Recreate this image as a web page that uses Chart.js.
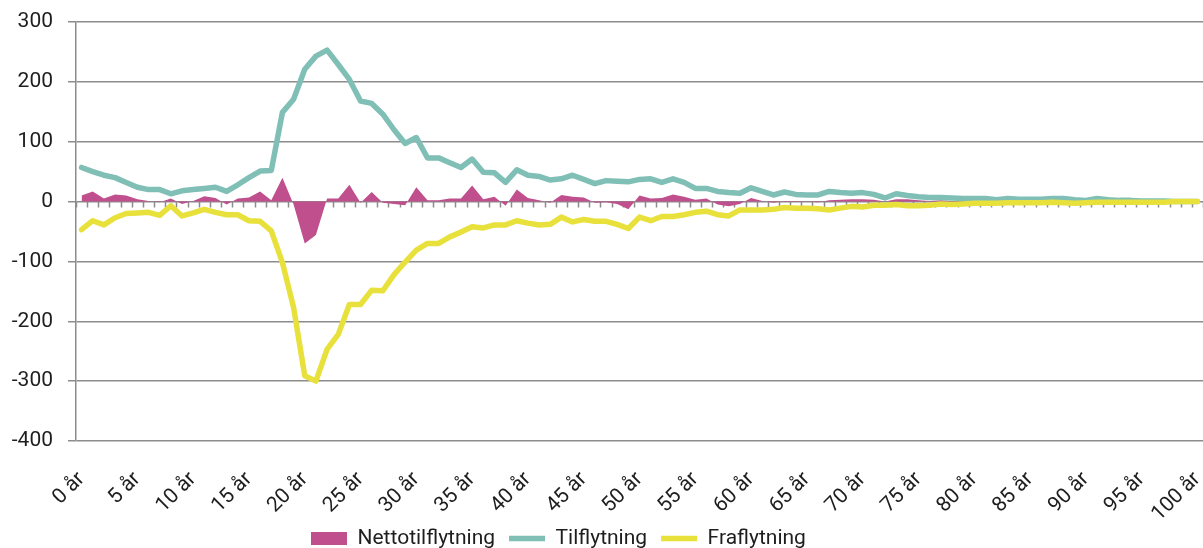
<!DOCTYPE html>
<html>
<head>
<meta charset="utf-8">
<script src="https://cdn.jsdelivr.net/npm/chart.js@4/dist/chart.umd.min.js"></script>
<style>
  html, body { margin: 0; padding: 0; background: #ffffff; overflow: hidden; }
  #wrap { width: 1203px; height: 548px; overflow: hidden; }
  canvas { display: block; }
</style>
</head>
<body>
<div id="wrap"><canvas id="c" width="1203" height="559"></canvas></div>
<script>
const ages = ["0 år","1 år","2 år","3 år","4 år","5 år","6 år","7 år","8 år","9 år",
  "10 år","11 år","12 år","13 år","14 år","15 år","16 år","17 år","18 år","19 år",
  "20 år","21 år","22 år","23 år","24 år","25 år","26 år","27 år","28 år","29 år",
  "30 år","31 år","32 år","33 år","34 år","35 år","36 år","37 år","38 år","39 år",
  "40 år","41 år","42 år","43 år","44 år","45 år","46 år","47 år","48 år","49 år",
  "50 år","51 år","52 år","53 år","54 år","55 år","56 år","57 år","58 år","59 år",
  "60 år","61 år","62 år","63 år","64 år","65 år","66 år","67 år","68 år","69 år",
  "70 år","71 år","72 år","73 år","74 år","75 år","76 år","77 år","78 år","79 år",
  "80 år","81 år","82 år","83 år","84 år","85 år","86 år","87 år","88 år","89 år",
  "90 år","91 år","92 år","93 år","94 år","95 år","96 år","97 år","98 år","99 år",
  "100 år"];

const nettotilflytning = [10,17,5,12,10,4,1,-1,5,-4,
  1,9,6,-5,5,7,17,2,40,-5,
  -70,-56,5,5,28,-2,16,-2,-4,-6,
  24,2,2,5,5,27,4,8,-7,20,
  6,2,-2,11,8,7,-2,-1,-4,-13,
  10,5,6,12,8,3,5,-5,-8,-4,
  6,1,-2,1,1,0,-1,2,3,4,
  4,3,0,4,4,2,1,2,1,1,
  1,1,0,2,1,1,1,2,2,0,
  0,2,1,1,1,0,0,0,0,0,
  0];

const tilflytning = [57,50,44,40,32,24,20,20,13,18,
  20,22,24,17,28,40,51,52,149,171,
  221,243,253,229,204,168,164,146,120,97,
  107,73,73,65,57,71,49,48,32,53,
  44,42,36,38,44,37,30,35,34,33,
  37,38,32,38,32,22,22,17,15,14,
  23,17,11,16,12,11,11,17,15,14,
  15,12,6,13,10,8,7,7,6,5,
  5,5,3,5,4,4,4,5,5,3,
  2,5,3,2,2,1,1,1,0,0,
  0];

const fraflytning = [-47,-32,-39,-27,-20,-19,-18,-23,-7,-24,
  -19,-13,-18,-22,-22,-32,-33,-49,-102,-177,
  -291,-300,-247,-222,-172,-172,-148,-149,-122,-101,
  -81,-70,-70,-59,-51,-42,-44,-39,-39,-32,
  -36,-39,-38,-26,-34,-30,-33,-33,-38,-45,
  -26,-32,-25,-25,-22,-18,-16,-22,-24,-14,
  -14,-14,-13,-10,-11,-11,-12,-14,-11,-8,
  -9,-6,-6,-5,-7,-7,-6,-4,-5,-4,
  -3,-3,-3,-2,-2,-2,-2,-1,-2,-3,
  -2,-1,-1,-1,-1,-1,-1,-1,0,0,
  0];

const seriesNames = ["Nettotilflytning", "Tilflytning", "Fraflytning"];
const yMin = -400, yMax = 300, yStep = 100;
const labelEvery = 5;

const FONT = "Roboto, 'Liberation Sans', sans-serif";
const GRID = "#8c8c8c";
const TEXT = "#1e1e1e";
const LEGEND_START_X = 311;

const zeroTicks = {
  id: 'zeroTicks',
  beforeDatasetsDraw(chart) {
    const xs = chart.scales.x, ys = chart.scales.y;
    const y0 = ys.getPixelForValue(0);
    const ctx = chart.ctx;
    ctx.save();
    ctx.strokeStyle = GRID;
    ctx.lineWidth = 1.5;
    ctx.beginPath();
    for (let k = 0; k <= ages.length; k++) {
      const x = Math.round(xs.getPixelForValue(k - 0.5)) + 0.5;
      ctx.moveTo(x, y0);
      ctx.lineTo(x, y0 + 6);
    }
    ctx.stroke();
    ctx.restore();
  }
};

const legendShift = {
  id: 'legendShift',
  afterLayout(chart) {
    const lg = chart.legend;
    if (!lg) return;
    const pad = lg.options.labels.padding;
    const w = lg.right - lg.left;
    lg.left = LEGEND_START_X - pad;
    lg.right = lg.left + w;
  }
};

new Chart(document.getElementById('c'), {
  type: 'line',
  data: {
    labels: ages,
    datasets: [
      { label: seriesNames[0], data: nettotilflytning, backgroundColor: '#c0508d', borderColor: '#c0508d',
        borderWidth: 0, fill: 'origin', pointRadius: 0, pointStyle: 'rect', tension: 0, order: 3 },
      { label: seriesNames[1], data: tilflytning, borderColor: '#80bfb6', backgroundColor: '#80bfb6',
        borderWidth: 5.5, fill: false, pointRadius: 0, pointStyle: 'line', borderJoinStyle: 'round',
        borderCapStyle: 'round', tension: 0, order: 2 },
      { label: seriesNames[2], data: fraflytning, borderColor: '#e8e13b', backgroundColor: '#e8e13b',
        borderWidth: 5.5, fill: false, pointRadius: 0, pointStyle: 'line', borderJoinStyle: 'round',
        borderCapStyle: 'round', tension: 0, order: 1 }
    ]
  },
  options: {
    responsive: false,
    animation: false,
    devicePixelRatio: 1,
    layout: { padding: { top: 22, right: 0, bottom: 0, left: 0 } },
    plugins: {
      tooltip: { enabled: false },
      legend: {
        position: 'bottom',
        align: 'start',
        labels: {
          usePointStyle: true, pointStyleWidth: 36, boxHeight: 13, padding: 14, color: TEXT,
          font: { family: FONT, size: 21 },
          sort: (a, b) => a.datasetIndex - b.datasetIndex
        }
      }
    },
    scales: {
      x: {
        type: 'category',
        offset: true,
        grid: { display: false, drawTicks: false, tickLength: 0 },
        border: { display: false },
        ticks: {
          autoSkip: false, minRotation: 45, maxRotation: 45, padding: 26, color: TEXT,
          font: { family: FONT, size: 21 },
          callback: function (val, idx) { return idx % labelEvery === 0 ? ages[idx] : ''; }
        },
        afterFit(scale) {
          scale.height = 73; scale.paddingLeft = 0; scale.paddingRight = 0;
          scale._computeLabelArea = function () { return undefined; };
        }
      },
      y: {
        min: yMin, max: yMax,
        grid: { color: GRID, lineWidth: 1.5, drawTicks: true, tickLength: 8 },
        border: { display: true, color: GRID, width: 1.5 },
        ticks: { stepSize: yStep, padding: 15, color: TEXT, font: { family: FONT, size: 21 } },
        afterFit(scale) { scale.width = 76; scale.paddingTop = 0; scale.paddingBottom = 0; }
      }
    }
  },
  plugins: [zeroTicks, legendShift]
});
</script>
</body>
</html>
